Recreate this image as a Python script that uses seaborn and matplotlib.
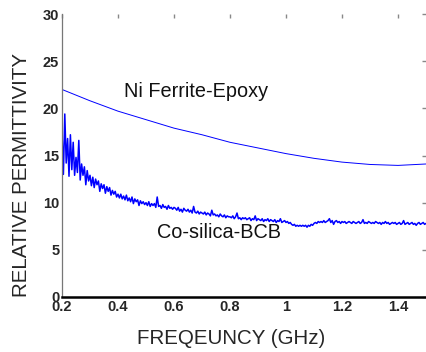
import numpy as np
import seaborn as sns
import matplotlib
matplotlib.use('Agg')
import matplotlib.pyplot as plt

# Ni Ferrite-Epoxy (smooth curve)
ni_freq = [0.2, 0.3, 0.4, 0.5, 0.6, 0.7, 0.8, 0.9, 1.0, 1.1, 1.2, 1.3, 1.4, 1.5]
ni_perm = [22.0, 20.8, 19.7, 18.8, 17.9, 17.2, 16.4, 15.8, 15.2, 14.7, 14.3, 14.05, 13.95, 14.1]

# Co-silica-BCB (noisy measurement), 0.200-1.500 step 0.005
co_freq = np.round(np.arange(0.200, 1.5001, 0.005), 3)
co_perm_lo = [17.5, 13.0, 19.4, 14.2, 16.8, 12.8, 17.2, 13.5, 16.4, 12.9,
              14.8, 13.2, 16.6, 12.4, 14.1, 12.9, 13.8, 11.9, 13.4, 12.3,
              12.9, 11.8, 12.7, 11.6, 12.5, 11.9, 12.3, 11.2, 12.0, 11.5,
              11.9, 11.0, 11.7, 11.2, 11.6, 10.8, 11.3, 10.9, 11.2, 10.6,
              10.9, 10.5, 10.9, 10.4, 10.7, 10.3, 10.8, 10.2, 10.5, 10.1,
              10.6, 9.9, 10.4, 10.1, 10.3, 9.7, 10.2, 9.9, 10.1, 9.8,
              10.0, 9.7, 10.1, 9.6, 9.9, 9.7, 9.9, 9.5, 10.6, 9.6,
              9.7, 9.4, 9.8, 9.5, 9.6, 9.3, 9.7, 9.4, 9.5, 9.3,
              9.5]
co_perm_hi = [9.4, 9.2, 9.5, 9.1, 9.3, 9.0, 9.4, 9.2, 9.1, 9.3,
              9.0, 9.2, 8.9, 9.6, 9.0, 8.9, 9.1, 8.8, 9.0, 8.9,
              8.8, 9.0, 8.7, 8.9, 8.8, 8.6, 9.2, 8.7, 8.8, 8.6,
              8.7, 8.5, 8.8, 8.6, 8.5, 8.7, 8.4, 8.6, 8.5, 8.5,
              8.4, 8.6, 8.3, 8.5, 8.9, 8.3, 8.4, 8.2, 8.4, 8.3,
              8.4, 8.2, 8.3, 8.4, 8.1, 8.3, 8.2, 8.6, 8.1, 8.3,
              8.2, 8.1, 8.3, 8.0, 8.2, 8.1, 8.3, 8.0, 8.2, 8.1,
              8.0, 8.2, 7.9, 8.1, 8.0, 8.3, 7.9, 8.0, 8.1, 7.9,
              8.0, 7.8, 7.9, 7.7, 7.6, 7.7, 7.5, 7.6, 7.5, 7.6,
              7.5, 7.6, 7.5, 7.6, 7.4, 7.6, 7.5, 7.7, 7.6, 7.8,
              7.9, 7.8, 8.0, 7.9, 8.0, 7.9, 8.1, 7.9, 8.0, 8.1,
              8.3, 7.9, 8.1, 7.7, 8.0, 8.1, 7.9, 8.0, 7.8, 8.0,
              7.9, 8.0, 7.8, 7.9, 8.0, 7.9, 7.8, 8.0, 7.9, 7.8,
              7.9, 8.0, 7.8, 7.9, 8.2, 7.8, 7.9, 7.8, 8.0, 7.9,
              7.8, 7.9, 7.8, 8.0, 7.9, 7.8, 7.9, 7.7, 7.9, 7.8,
              8.0, 7.8, 7.9, 7.7, 7.8, 7.9, 7.8, 7.9, 7.7, 7.8,
              7.9, 7.7, 7.8, 8.1, 7.7, 7.8, 7.9, 7.7, 7.8, 7.9,
              7.7, 7.8, 7.6, 7.8, 7.9, 7.7, 7.8, 7.9, 7.7, 7.8]
co_perm = np.array(co_perm_lo + co_perm_hi)

x_ticks = [0.2, 0.4, 0.6, 0.8, 1.0, 1.2, 1.4]
x_tick_labels = ['0.2', '0.4', '0.6', '0.8', '1', '1.2', '1.4']
y_ticks = [0, 5, 10, 15, 20, 25, 30]

sns.set_style('white')
plt.rcParams['font.family'] = ['Liberation Sans', 'DejaVu Sans']

fig = plt.figure(figsize=(4.26, 3.52), dpi=100)
ax = fig.add_axes([62 / 426, 55 / 352, 364 / 426, 283 / 352])

sns.lineplot(x=ni_freq, y=ni_perm, ax=ax, color='blue', lw=0.7, estimator=None)
sns.lineplot(x=co_freq, y=co_perm, ax=ax, color='blue', lw=1.1, estimator=None)

ax.set_xlim(0.2, 1.5)
ax.set_ylim(0, 30)
ax.set_xticks(x_ticks)
ax.set_xticklabels(x_tick_labels)
ax.set_yticks(y_ticks)

for s in ['top', 'right']:
    ax.spines[s].set_visible(False)
ax.spines['left'].set_color('#777777')
ax.spines['left'].set_linewidth(0.9)
ax.spines['bottom'].set_color('black')
ax.spines['bottom'].set_linewidth(1.8)

ax.tick_params(direction='in', length=3, width=1, color='#888888',
               top=True, right=True, labelsize=10.5, pad=2)
for lab in ax.get_xticklabels() + ax.get_yticklabels():
    lab.set_fontweight('heavy')

ax.text(0.421, 21.8, 'Ni Ferrite-Epoxy', fontsize=14.3, va='center', color='#111111')
ax.text(0.539, 6.8, 'Co-silica-BCB', fontsize=14.3, va='center', color='#111111')

fig.text(231 / 426, 1 - 338 / 352, 'FREQEUNCY (GHz)', fontsize=14.8,
         ha='center', va='center')
fig.text(22 / 426, 1 - 175 / 352, 'RELATIVE PERMITTIVITY', fontsize=14.8,
         rotation=90, ha='center', va='center')

fig.savefig('out.png', dpi=100)
plt.close(fig)
